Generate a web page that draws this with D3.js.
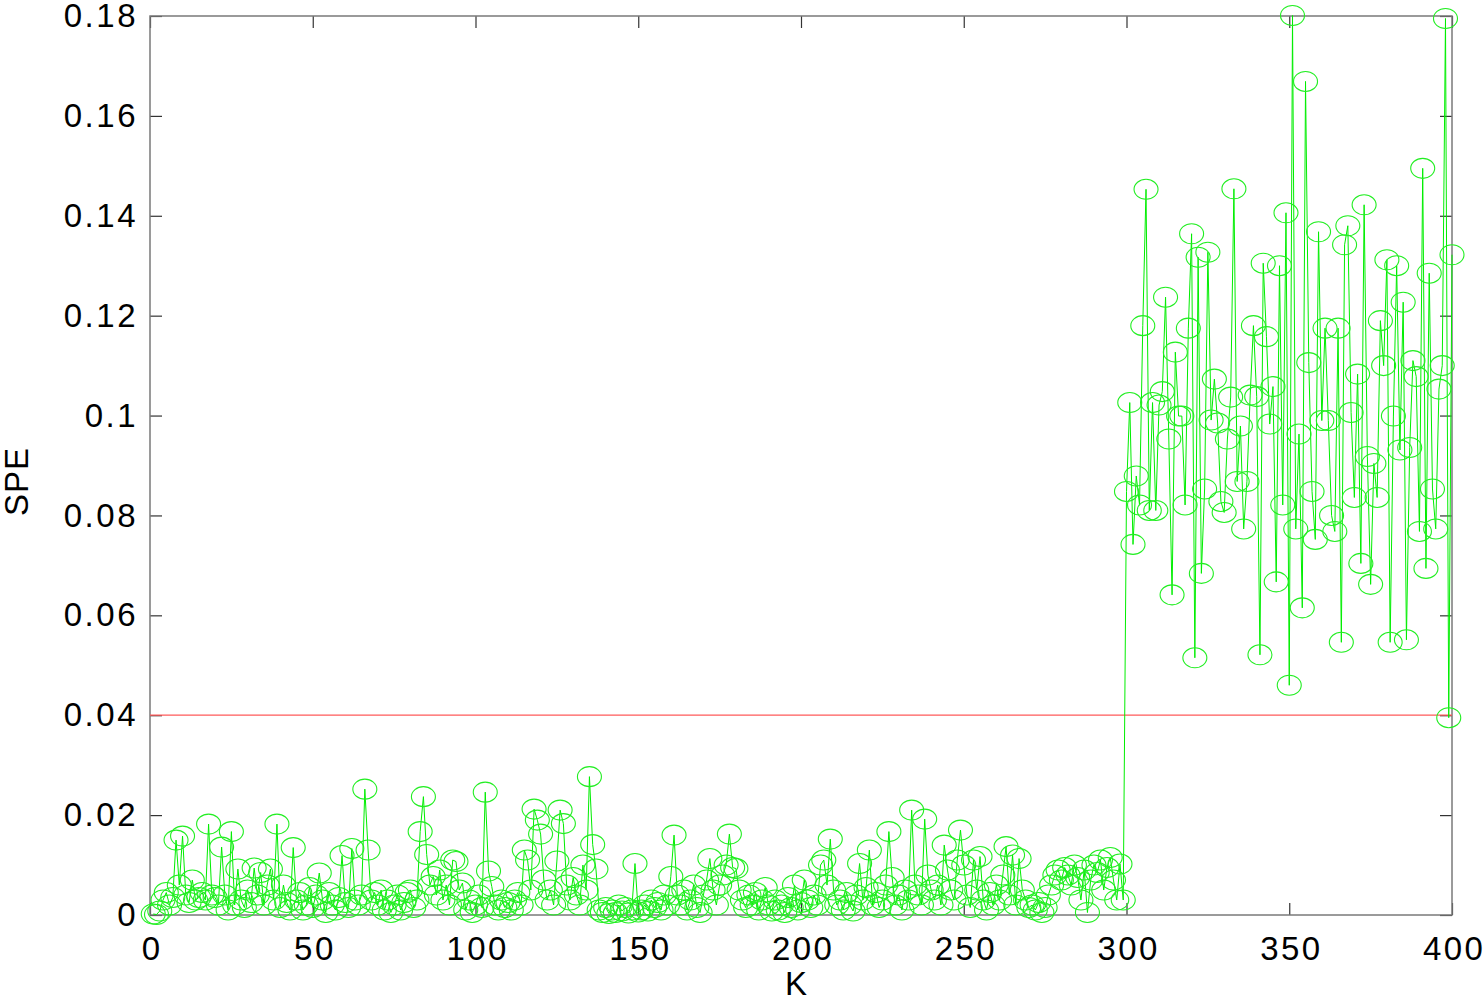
<!DOCTYPE html>
<html>
<head>
<meta charset="utf-8">
<script src="https://cdn.jsdelivr.net/npm/d3@7"></script>
<style>
  body { margin: 0; background: #fff; }
  text { font-family: "Liberation Sans", Arial, sans-serif; }
</style>
</head>
<body>
<div id="chart"></div>
<script>
// SPE for samples k = 1..299 (normal operation)
const normalSPE = [
  0.0002, 0.0001, 0.0008, 0.0030, 0.0045, 0.0020, 0.0035, 0.0150, 0.0060, 0.0158,
  0.0040, 0.0025, 0.0070, 0.0030, 0.0035, 0.0045, 0.0030, 0.0182, 0.0040, 0.0035,
  0.0020, 0.0136, 0.0040, 0.0010, 0.0167, 0.0020, 0.0092, 0.0030, 0.0015, 0.0050,
  0.0025, 0.0094, 0.0040, 0.0085, 0.0020, 0.0060, 0.0092, 0.0030, 0.0182, 0.0015,
  0.0060, 0.0025, 0.0010, 0.0135, 0.0030, 0.0045, 0.0010, 0.0020, 0.0055, 0.0015,
  0.0040, 0.0084, 0.0030, 0.0005, 0.0045, 0.0020, 0.0010, 0.0035, 0.0119, 0.0025,
  0.0015, 0.0133, 0.0030, 0.0020, 0.0040, 0.0252, 0.0130, 0.0030, 0.0045, 0.0020,
  0.0050, 0.0010, 0.0030, 0.0005, 0.0020, 0.0040, 0.0010, 0.0025, 0.0045, 0.0050,
  0.0015, 0.0030, 0.0167, 0.0237, 0.0121, 0.0060, 0.0077, 0.0040, 0.0090, 0.0030,
  0.0060, 0.0020, 0.0110, 0.0107, 0.0050, 0.0064, 0.0010, 0.0030, 0.0005, 0.0020,
  0.0040, 0.0015, 0.0246, 0.0088, 0.0057, 0.0020, 0.0010, 0.0030, 0.0015, 0.0025,
  0.0010, 0.0030, 0.0045, 0.0020, 0.0130, 0.0110, 0.0050, 0.0212, 0.0190, 0.0162,
  0.0070, 0.0030, 0.0050, 0.0020, 0.0108, 0.0210, 0.0183, 0.0060, 0.0030, 0.0075,
  0.0040, 0.0020, 0.0100, 0.0050, 0.0277, 0.0141, 0.0092, 0.0010, 0.0005, 0.0015,
  0.0003, 0.0010, 0.0005, 0.0020, 0.0008, 0.0015, 0.0004, 0.0010, 0.0103, 0.0006,
  0.0010, 0.0020, 0.0008, 0.0030, 0.0015, 0.0025, 0.0010, 0.0040, 0.0020, 0.0077,
  0.0160, 0.0040, 0.0020, 0.0050, 0.0010, 0.0030, 0.0060, 0.0015, 0.0005, 0.0040,
  0.0070, 0.0113, 0.0050, 0.0020, 0.0060, 0.0080, 0.0100, 0.0162, 0.0095, 0.0093,
  0.0050, 0.0030, 0.0015, 0.0040, 0.0020, 0.0045, 0.0010, 0.0030, 0.0055, 0.0020,
  0.0008, 0.0030, 0.0010, 0.0020, 0.0005, 0.0035, 0.0015, 0.0060, 0.0010, 0.0025,
  0.0070, 0.0030, 0.0015, 0.0040, 0.0020, 0.0100, 0.0110, 0.0060, 0.0152, 0.0050,
  0.0020, 0.0030, 0.0010, 0.0045, 0.0020, 0.0008, 0.0040, 0.0103, 0.0030, 0.0055,
  0.0130, 0.0020, 0.0045, 0.0015, 0.0030, 0.0060, 0.0167, 0.0075, 0.0020, 0.0040,
  0.0010, 0.0050, 0.0030, 0.0210, 0.0060, 0.0040, 0.0020, 0.0192, 0.0080, 0.0050,
  0.0030, 0.0060, 0.0020, 0.0140, 0.0090, 0.0050, 0.0030, 0.0110, 0.0170, 0.0100,
  0.0040, 0.0015, 0.0110, 0.0050, 0.0117, 0.0030, 0.0010, 0.0045, 0.0020, 0.0060,
  0.0030, 0.0080, 0.0137, 0.0040, 0.0120, 0.0020, 0.0113, 0.0050, 0.0030, 0.0015,
  0.0020, 0.0010, 0.0025, 0.0005, 0.0015, 0.0040, 0.0060, 0.0080, 0.0090, 0.0070,
  0.0095, 0.0080, 0.0060, 0.0100, 0.0075, 0.0030, 0.0090, 0.0005, 0.0070, 0.0100,
  0.0085, 0.0110, 0.0050, 0.0095, 0.0115, 0.0070, 0.0030, 0.0102, 0.0030
]

// SPE for samples k = 300..400 (fault)
const faultSPE = [
  0.0848,
  0.1026, 0.0742, 0.0879, 0.0821, 0.1180, 0.1453, 0.0810, 0.1026, 0.0810, 0.1021,
  0.1048, 0.1237, 0.0953, 0.0641, 0.1127, 0.0999, 0.0999, 0.0821, 0.1175, 0.1364,
  0.0515, 0.1317, 0.0684, 0.0853, 0.1327, 0.0991, 0.1073, 0.0985, 0.0828, 0.0806,
  0.0953, 0.1037, 0.1454, 0.0868, 0.0979, 0.0773, 0.0868, 0.1041, 0.1180, 0.1038,
  0.0521, 0.1305, 0.1158, 0.0983, 0.1058, 0.0667, 0.1300, 0.0821, 0.1406, 0.0460,
  0.1801, 0.0773, 0.0963, 0.0615, 0.1669, 0.1106, 0.0848, 0.0752, 0.1368, 0.0990,
  0.1175, 0.0990, 0.0800, 0.0768, 0.1175, 0.0546, 0.1342, 0.1380, 0.1006, 0.0836,
  0.1083, 0.0704, 0.1422, 0.0918, 0.0662, 0.0904, 0.0836, 0.1190, 0.1100, 0.1312,
  0.0546, 0.0999, 0.1300, 0.0931, 0.1227, 0.0551, 0.0936, 0.1110, 0.1078, 0.0768,
  0.1495, 0.0694, 0.1285, 0.0853, 0.0773, 0.1053, 0.1100, 0.1795, 0.0395, 0.1322
]

const threshold = 0.04
const xTicks = [0, 50, 100, 150, 200, 250, 300, 350, 400]
const yTicks = [0, 0.02, 0.04, 0.06, 0.08, 0.1, 0.12, 0.14, 0.16, 0.18]

const MARGIN = { TOP: 16, BOTTOM: 85, LEFT: 150, RIGHT: 32 }
const WIDTH = 1484 - MARGIN.LEFT - MARGIN.RIGHT
const HEIGHT = 1000 - MARGIN.TOP - MARGIN.BOTTOM
const TICK = 12

const data = normalSPE.concat(faultSPE).map((v, i) => ({ k: i + 1, v: v }))

const svg = d3.select('#chart')
  .append('svg')
    .attr('width', 1484)
    .attr('height', 1000)
  .append('g')
    .attr('transform', `translate(${MARGIN.LEFT}, ${MARGIN.TOP})`)

const x = d3.scaleLinear().domain([0, 400]).range([0, WIDTH])
const y = d3.scaleLinear().domain([0, 0.18]).range([HEIGHT, 0])

const fmt = d => String(+d.toFixed(2))

// axes with inward ticks on all four sides
const styleAxis = (g, labels) => {
  g.select('.domain').remove()
  g.selectAll('.tick line').attr('stroke', '#333').attr('stroke-width', 1.2)
  g.selectAll('.tick text')
    .attr('font-size', 33)
    .attr('letter-spacing', '2.5px')
    .attr('fill', '#000')
    .style('display', labels ? null : 'none')
}

svg.append('g')
  .attr('transform', `translate(0, ${HEIGHT})`)
  .call(d3.axisBottom(x).tickValues(xTicks).tickSize(-TICK).tickPadding(14).tickFormat(d3.format('d')))
  .call(g => styleAxis(g, true))
  .call(g => g.selectAll('.tick text').attr('dy', '0.95em').attr('dx', '0.05em'))

svg.append('g')
  .call(d3.axisTop(x).tickValues(xTicks).tickSize(-TICK))
  .call(g => styleAxis(g, false))

svg.append('g')
  .call(d3.axisLeft(y).tickValues(yTicks).tickSize(-TICK).tickPadding(12).tickFormat(fmt))
  .call(g => styleAxis(g, true))

svg.append('g')
  .attr('transform', `translate(${WIDTH}, 0)`)
  .call(d3.axisRight(y).tickValues(yTicks).tickSize(-TICK))
  .call(g => styleAxis(g, false))

// box
svg.append('rect')
  .attr('x', 0)
  .attr('y', 0)
  .attr('width', WIDTH)
  .attr('height', HEIGHT)
  .attr('fill', 'none')
  .attr('stroke', '#7a7a7a')
  .attr('stroke-width', 1.5)

// control limit
svg.append('line')
  .attr('x1', 0)
  .attr('x2', WIDTH)
  .attr('y1', y(threshold))
  .attr('y2', y(threshold))
  .attr('stroke', '#ff5a5a')
  .attr('stroke-width', 1.2)

const line = d3.line()
  .x(d => x(d.k))
  .y(d => y(d.v))

svg.append('path')
  .datum(data)
  .attr('fill', 'none')
  .attr('stroke', '#00ee00')
  .attr('stroke-width', 1)
  .attr('d', line)

svg.selectAll('ellipse')
  .data(data)
  .enter()
  .append('ellipse')
    .attr('cx', d => x(d.k))
    .attr('cy', d => y(d.v))
    .attr('rx', 12)
    .attr('ry', 10)
    .attr('fill', 'none')
    .attr('stroke', '#22ee22')
    .attr('stroke-width', 1.1)

// axis labels
svg.append('text')
  .attr('x', WIDTH / 2 - 5)
  .attr('y', HEIGHT + 80)
  .attr('text-anchor', 'middle')
  .attr('font-size', 33)
  .text('K')

svg.append('text')
  .attr('x', -HEIGHT / 2 - 16)
  .attr('y', -122)
  .attr('text-anchor', 'middle')
  .attr('font-size', 33)
  .attr('letter-spacing', '1px')
  .attr('transform', 'rotate(-90)')
  .text('SPE')
</script>
</body>
</html>
